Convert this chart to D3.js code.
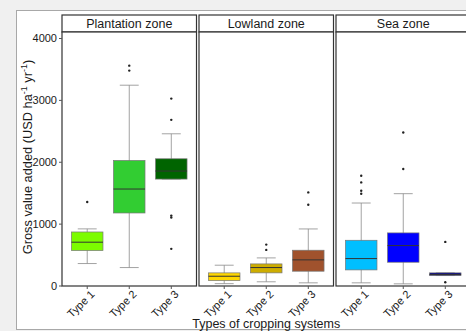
<!DOCTYPE html>
<html lang="en">
<head>
<meta charset="utf-8" />
<title>Gross value added by zone</title>
<script src="https://cdn.jsdelivr.net/npm/d3@7"></script>
<style>
  html, body { margin: 0; padding: 0; background: #f0f0f0; overflow: hidden; }
</style>
</head>
<body>
<svg id="chart" width="466" height="331"></svg>
<script>
// zones (facets) and cropping types
const zones = ["Plantation zone", "Lowland zone", "Sea zone"];
const types = ["Type 1", "Type 2", "Type 3"];

// box stats per zone, one row per type: [low whisker, q1, median, q3, high whisker]
const plantationStats = [[355, 565, 700, 865, 915], [290, 1172, 1559, 2021, 3237], [1720, 1720, 1850, 2048, 2452]];
const lowlandStats = [[30, 80, 150, 204, 328], [60, 204, 290, 349, 446], [43, 231, 414, 570, 914]];
const seaStats = [[43, 252, 435, 731, 1333], [27, 376, 645, 850, 1484], [161, 161, 177, 204, 204]];

// outliers
const plantationOut = [[1350], [3553, 3473], [3021, 2677, 1130, 1100, 592]];
const lowlandOut = [[], [661, 575], [1505, 1306]];
const seaOut = [[1774, 1666, 1532, 1484], [2473, 1882], [705, 53]];

// fill colours
const plantationFill = ["#7cfc00", "#32cd32", "#006400"];
const lowlandFill = ["#ffd700", "#cdad00", "#a0522d"];
const seaFill = ["#00bfff", "#0000ff", "#000080"];

const yTicks = [0, 1000, 2000, 3000, 4000];

const stats = [plantationStats, lowlandStats, seaStats];
const outs = [plantationOut, lowlandOut, seaOut];
const fills = [plantationFill, lowlandFill, seaFill];

const svg = d3.select("#chart").attr("font-family", "Liberation Sans, Arial, sans-serif");

// outer white frame
svg.append("rect")
  .attr("x", 16.5).attr("y", 10.5)
  .attr("width", 480).attr("height", 319)
  .attr("fill", "#fff")
  .attr("stroke", "#a8a8a8");

const margin = { left: 62, top: 32, strip: 17, bottom: 286 };
const panelW = 134.5, gap = 2.5;

const yScale = d3.scaleLinear().domain([0, 4000]).range([285.5, 38]);
const panelX = d3.scaleBand().domain(zones)
  .range([margin.left, margin.left + 3 * panelW + 2 * gap])
  .paddingInner(gap / (panelW + gap));

const xScale = d3.scalePoint().domain(types).range([0, panelW]).padding(0.6);
const boxW = xScale.step() * 0.75;
const capW = boxW * 0.3;

zones.forEach((zone, zi) => {
  const g = svg.append("g").attr("transform", `translate(${panelX(zone)},0)`);

  // strip
  g.append("rect")
    .attr("x", 0).attr("y", margin.top - margin.strip)
    .attr("width", panelW).attr("height", margin.strip)
    .attr("fill", "#fff").attr("stroke", "#333").attr("stroke-width", 1.2);
  g.append("text")
    .attr("x", panelW / 2).attr("y", margin.top - 4.5)
    .attr("text-anchor", "middle")
    .attr("font-size", "12.5px")
    .attr("fill", "#1a1a1a")
    .text(zone);

  // panel background
  g.append("rect")
    .attr("x", 0).attr("y", margin.top)
    .attr("width", panelW).attr("height", margin.bottom - margin.top)
    .attr("fill", "#fff");

  const rows = stats[zi].map((s, i) => ({ type: types[i], s: s, out: outs[zi][i], fill: fills[zi][i] }));

  const box = g.selectAll(".box").data(rows).enter().append("g").attr("class", "box")
    .attr("transform", d => `translate(${xScale(d.type)},0)`);

  // whiskers with caps
  box.append("line")
    .attr("x1", 0).attr("x2", 0)
    .attr("y1", d => yScale(d.s[0])).attr("y2", d => yScale(d.s[4]))
    .attr("stroke", "#8c8c8c").attr("stroke-width", 0.8);
  box.append("line")
    .attr("x1", -capW).attr("x2", capW)
    .attr("y1", d => yScale(d.s[4])).attr("y2", d => yScale(d.s[4]))
    .attr("stroke", "#8c8c8c").attr("stroke-width", 0.8);
  box.append("line")
    .attr("x1", -capW).attr("x2", capW)
    .attr("y1", d => yScale(d.s[0])).attr("y2", d => yScale(d.s[0]))
    .attr("stroke", "#8c8c8c").attr("stroke-width", 0.8);

  box.append("rect")
    .attr("x", -boxW / 2).attr("width", boxW)
    .attr("y", d => yScale(d.s[3]))
    .attr("height", d => Math.max(yScale(d.s[1]) - yScale(d.s[3]), 1))
    .attr("fill", d => d.fill)
    .attr("stroke", "#777").attr("stroke-width", 0.7);

  box.append("line")
    .attr("x1", -boxW / 2).attr("x2", boxW / 2)
    .attr("y1", d => yScale(d.s[2])).attr("y2", d => yScale(d.s[2]))
    .attr("stroke", "#333").attr("stroke-width", 1);

  box.selectAll(".out").data(d => d.out).enter().append("circle")
    .attr("class", "out")
    .attr("cx", 0).attr("cy", d => yScale(d))
    .attr("r", 1.2).attr("fill", "#222");

  // panel border
  g.append("rect")
    .attr("x", 0).attr("y", margin.top)
    .attr("width", panelW).attr("height", margin.bottom - margin.top)
    .attr("fill", "none").attr("stroke", "#333").attr("stroke-width", 1.2);

  // x axis ticks and labels
  const xa = g.append("g");
  types.forEach(t => {
    xa.append("line")
      .attr("x1", xScale(t)).attr("x2", xScale(t))
      .attr("y1", margin.bottom).attr("y2", margin.bottom + 3)
      .attr("stroke", "#555");
    xa.append("text")
      .attr("transform", `translate(${xScale(t) + 8},${margin.bottom + 9}) rotate(-45)`)
      .attr("text-anchor", "end")
      .attr("font-size", "11px")
      .attr("fill", "#1a1a1a")
      .text(t);
  });
});

// y axis
const yAxis = svg.append("g")
  .attr("transform", `translate(${margin.left},0)`)
  .call(d3.axisLeft(yScale).tickValues(yTicks).tickSize(3).tickPadding(2).tickFormat(d3.format("d")));
yAxis.select(".domain").remove();
yAxis.selectAll("line").attr("stroke", "#555");
yAxis.selectAll("text")
  .attr("font-size", "11px")
  .attr("font-family", "Liberation Sans, Arial, sans-serif")
  .attr("fill", "#1a1a1a");

// axis titles
const yTitle = svg.append("text")
  .attr("transform", `translate(31.5,157) rotate(-90)`)
  .attr("text-anchor", "middle")
  .attr("font-size", "12.8px")
  .attr("fill", "#1a1a1a");
yTitle.append("tspan").text("Gross value added (USD ha");
yTitle.append("tspan").attr("dy", -5).attr("font-size", "9px").text("-1");
yTitle.append("tspan").attr("dy", 5).text(" yr");
yTitle.append("tspan").attr("dy", -5).attr("font-size", "9px").text("-1");
yTitle.append("tspan").attr("dy", 5).text(")");

svg.append("text")
  .attr("x", (margin.left + 3 * panelW + 2 * gap + margin.left) / 2)
  .attr("y", 328)
  .attr("text-anchor", "middle")
  .attr("font-size", "12.5px")
  .attr("fill", "#1a1a1a")
  .text("Types of cropping systems");
</script>
</body>
</html>
